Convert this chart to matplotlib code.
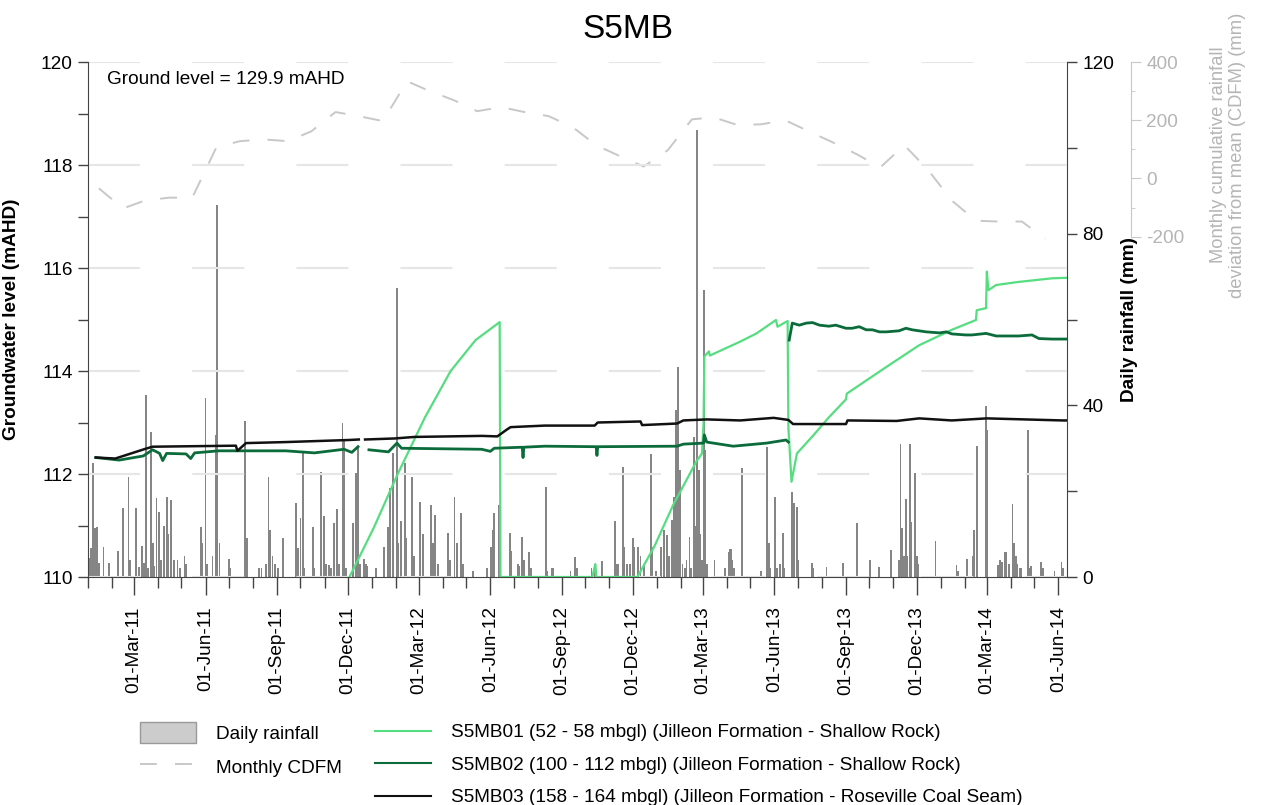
import pandas as pd
import matplotlib
matplotlib.use("Agg")
import matplotlib.pyplot as plt
import matplotlib.dates as mdates
from matplotlib.patches import Patch
from matplotlib.lines import Line2D
from matplotlib.ticker import MultipleLocator

plt.rcParams['font.family'] = ['Liberation Sans', 'DejaVu Sans']
plt.rcParams['axes.unicode_minus'] = False

# ---------------- data ----------------
rain_dates = [
    "2011-01-02", "2011-01-03", "2011-01-05", "2011-01-07", "2011-01-08", "2011-01-10", "2011-01-13", "2011-01-15",
    "2011-01-21", "2011-01-28", "2011-02-08", "2011-02-15", "2011-02-22", "2011-02-24", "2011-03-04", "2011-03-08",
    "2011-03-11", "2011-03-14", "2011-03-17", "2011-03-19", "2011-03-23", "2011-03-25", "2011-03-27", "2011-03-30",
    "2011-04-02", "2011-04-05", "2011-04-09", "2011-04-12", "2011-04-14", "2011-04-18", "2011-04-21", "2011-04-26",
    "2011-04-29", "2011-05-05", "2011-05-07", "2011-05-26", "2011-05-28", "2011-06-01", "2011-06-03", "2011-06-10",
    "2011-06-15", "2011-06-16", "2011-06-19", "2011-07-01", "2011-07-02", "2011-07-22", "2011-07-24", "2011-08-09",
    "2011-08-12", "2011-08-18", "2011-08-21", "2011-08-23", "2011-08-26", "2011-08-29", "2011-09-02", "2011-09-09",
    "2011-09-25", "2011-09-28", "2011-10-01", "2011-10-04", "2011-10-06", "2011-10-17", "2011-10-19", "2011-10-27",
    "2011-10-31", "2011-11-03", "2011-11-07", "2011-11-09", "2011-11-13", "2011-11-17", "2011-11-20", "2011-11-24",
    "2011-11-26", "2011-11-29", "2011-12-07", "2011-12-11", "2011-12-14", "2011-12-17", "2011-12-22", "2011-12-24",
    "2011-12-26",
    "2012-01-06", "2012-01-16", "2012-01-22", "2012-01-24", "2012-01-28", "2012-02-02", "2012-02-04", "2012-02-07",
    "2012-02-12", "2012-02-14", "2012-02-21", "2012-02-24", "2012-03-03", "2012-03-06", "2012-03-17", "2012-03-19",
    "2012-03-22", "2012-03-26", "2012-04-08", "2012-04-10", "2012-04-16", "2012-04-19", "2012-04-24", "2012-04-27",
    "2012-05-10", "2012-05-28", "2012-06-02", "2012-06-04", "2012-06-06", "2012-06-12", "2012-06-14", "2012-06-26",
    "2012-06-28", "2012-07-06", "2012-07-08", "2012-07-12", "2012-07-14", "2012-07-21", "2012-07-23", "2012-08-11",
    "2012-08-13", "2012-08-19", "2012-08-21", "2012-09-12", "2012-09-18", "2012-09-20", "2012-10-09", "2012-10-13",
    "2012-10-22", "2012-11-08", "2012-11-10", "2012-11-12", "2012-11-18", "2012-11-20", "2012-11-24", "2012-11-28",
    "2012-12-01", "2012-12-03", "2012-12-08", "2012-12-11", "2012-12-16", "2012-12-24", "2012-12-26", "2012-12-31",
    "2013-01-06", "2013-01-10", "2013-01-14", "2013-01-17", "2013-01-20", "2013-01-23", "2013-01-24", "2013-01-26",
    "2013-01-28", "2013-01-31", "2013-02-03", "2013-02-06", "2013-02-08", "2013-02-12", "2013-02-14", "2013-02-18",
    "2013-02-20", "2013-02-22", "2013-02-24", "2013-02-26", "2013-02-28", "2013-03-03", "2013-03-04", "2013-03-06",
    "2013-03-16", "2013-03-30", "2013-04-03", "2013-04-05", "2013-04-06", "2013-04-08", "2013-04-10", "2013-04-20",
    "2013-05-15", "2013-05-23", "2013-05-25", "2013-05-27", "2013-06-02", "2013-06-04", "2013-06-08", "2013-06-12",
    "2013-06-14", "2013-06-24", "2013-06-26", "2013-06-30", "2013-07-02", "2013-07-19", "2013-07-21", "2013-08-07",
    "2013-08-28", "2013-09-15", "2013-10-02", "2013-10-13", "2013-10-29", "2013-11-08", "2013-11-10", "2013-11-12",
    "2013-11-14", "2013-11-17", "2013-11-19", "2013-11-22", "2013-11-23", "2013-11-29", "2013-12-01", "2013-12-03",
    "2013-12-25",
    "2014-01-21", "2014-01-23", "2014-02-03", "2014-02-11", "2014-02-13", "2014-02-16", "2014-02-28", "2014-03-01",
    "2014-03-15", "2014-03-18", "2014-03-20", "2014-03-24", "2014-03-26", "2014-03-29", "2014-04-03", "2014-04-05",
    "2014-04-07", "2014-04-09", "2014-04-12", "2014-04-14", "2014-04-23", "2014-04-25", "2014-04-27", "2014-05-10",
    "2014-05-12", "2014-05-27", "2014-06-05", "2014-06-07",
]
rain_mm = [
    4.4, 2.0, 6.8, 26.6, 15.0, 11.4, 11.7, 3.2,
    7.0, 3.2, 6.0, 16.0, 23.3, 4.0, 16.0, 2.3,
    7.2, 3.2, 42.4, 2.0, 33.8, 8.0, 2.5, 18.4,
    15.2, 4.0, 12.0, 18.6, 10.0, 18.0, 4.0, 4.0,
    2.0, 5.0, 3.0, 11.7, 8.0, 41.7, 3.0, 5.0,
    33.0, 86.7, 8.0, 4.2, 2.0, 36.4, 9.0, 2.0,
    2.0, 3.0, 23.3, 11.0, 5.0, 3.0, 2.0, 9.0,
    17.2, 6.7, 13.8, 29.0, 2.0, 11.6, 2.0, 24.4,
    14.2, 3.0, 2.8, 2.0, 12.5, 15.8, 3.0, 36.0,
    32.0, 2.0, 12.6, 24.2, 30.4, 3.0, 4.2, 3.0,
    2.5,
    2.0, 7.0, 11.7, 20.7, 29.0, 67.4, 8.0, 13.0,
    26.5, 9.0, 23.3, 5.0, 17.4, 10.0, 16.8, 8.0,
    14.4, 3.0, 10.3, 4.0, 18.6, 8.0, 15.0, 3.0,
    1.5, 2.0, 7.0, 11.0, 14.9, 16.8, 2.0, 10.3,
    6.0, 3.0, 2.5, 9.3, 4.0, 5.8, 2.0, 21.0,
    1.5, 2.0, 2.0, 1.5, 4.7, 2.0, 2.0, 3.0,
    3.7, 13.0, 3.0, 3.0, 25.6, 7.0, 3.0, 3.0,
    9.0, 7.0, 7.0, 5.0, 3.0, 28.6, 7.0, 1.5,
    7.0, 11.0, 9.8, 5.0, 13.3, 18.7, 6.8, 39.0,
    49.0, 25.0, 3.0, 2.0, 4.0, 9.3, 2.0, 32.6,
    12.0, 104.2, 25.0, 10.0, 4.0, 66.9, 29.6, 3.0,
    4.0, 2.0, 5.8, 6.5, 6.5, 4.0, 2.0, 25.4,
    1.5, 30.4, 8.0, 2.0, 18.7, 2.0, 3.0, 10.3,
    2.0, 19.8, 17.2, 16.3, 4.0, 3.3, 2.0, 2.3,
    3.3, 12.6, 4.0, 2.3, 6.3, 4.0, 31.0, 11.4,
    5.0, 18.2, 5.0, 31.0, 12.8, 24.2, 5.0, 3.0,
    8.4,
    2.8, 1.5, 4.2, 5.0, 11.0, 30.5, 39.9, 34.3,
    2.8, 4.0, 3.5, 5.8, 5.8, 3.0, 17.0, 8.0,
    5.0, 3.0, 2.0, 2.0, 34.3, 2.0, 2.5, 3.5,
    2.0, 1.5, 3.5, 2.0,
]

# Monthly cumulative rainfall deviation from mean (mid-month values)
cdfm_months = pd.date_range("2011-01-01", "2014-05-01", freq="MS") + pd.Timedelta(days=14)
cdfm_mm = [
    -34, -103, -76, -66, -66, 107, 128, 134, 128, 162, 228, 214,
    197, 334, 300, 269, 231, 245, 228, 214, 176, 114, 76, 41,
    97, 203, 210, 183, 186, 200, 162, 124, 83, 38, 114, 31,
    -76, -145, -148, -148, -207,
]

mb01_dates = [
    "2011-12-03", "2012-01-03", "2012-02-03", "2012-03-09", "2012-04-11", "2012-05-13", "2012-06-13",
    "2012-06-14", "2012-10-10", "2012-10-14", "2012-10-15", "2012-12-07", "2012-12-29", "2013-01-22",
    "2013-02-21", "2013-02-28", "2013-03-02", "2013-03-03", "2013-03-04", "2013-03-09", "2013-03-10",
    "2013-04-18", "2013-05-09", "2013-06-03", "2013-06-05", "2013-06-18", "2013-06-19", "2013-06-23",
    "2013-06-30", "2013-07-21", "2013-08-10", "2013-09-01", "2013-09-02", "2013-10-23", "2013-12-04",
    "2014-01-15", "2014-02-15", "2014-02-16", "2014-02-28", "2014-03-01", "2014-03-03", "2014-03-13",
    "2014-04-11", "2014-05-24", "2014-06-12",
]
mb01_level = [
    110.0, 110.95, 112.0, 113.1, 114.0, 114.6, 114.95,
    110.0, 110.0, 110.25, 110.0, 110.0, 110.6, 111.4,
    112.25, 112.4, 113.0, 114.28, 114.3, 114.38, 114.3,
    114.57, 114.73, 114.99, 114.86, 114.97, 112.9, 111.85,
    112.4, 112.75, 113.1, 113.45, 113.56, 114.08, 114.5,
    114.8, 114.99, 115.18, 115.22, 115.93, 115.57, 115.67,
    115.73, 115.8, 115.81,
]

mb02_dates = [
    "2011-01-11", "2011-02-10", "2011-03-13", "2011-03-25", "2011-04-03", "2011-04-07", "2011-04-12",
    "2011-05-07", "2011-05-13", "2011-05-18", "2011-06-18", "2011-09-12", "2011-10-19", "2011-11-26",
    "2011-12-06", "2011-12-14", "2011-12-18", "2011-12-28", "2012-01-22", "2012-02-02", "2012-02-08",
    "2012-05-21", "2012-06-01", "2012-06-06", "2012-07-12", "2012-07-13", "2012-07-14", "2012-08-10",
    "2012-10-15", "2012-10-16", "2012-10-17", "2013-01-27", "2013-02-04", "2013-03-02", "2013-03-03",
    "2013-03-06", "2013-04-09", "2013-05-22", "2013-06-16", "2013-06-19", "2013-06-19T12:00",
    "2013-06-20", "2013-06-24", "2013-07-03", "2013-07-12", "2013-07-20", "2013-07-29", "2013-08-10",
    "2013-08-19", "2013-09-01", "2013-09-09", "2013-09-18", "2013-09-27", "2013-10-05", "2013-10-14",
    "2013-10-23", "2013-11-08", "2013-11-17", "2013-11-25", "2013-12-04", "2013-12-13", "2013-12-30",
    "2014-01-08", "2014-01-15", "2014-02-02", "2014-02-10", "2014-02-28", "2014-03-13", "2014-03-26",
    "2014-04-11", "2014-04-28", "2014-05-07", "2014-05-24", "2014-06-12",
]
mb02_level = [
    112.32, 112.27, 112.35, 112.47, 112.4, 112.26, 112.4,
    112.39, 112.3, 112.41, 112.45, 112.45, 112.41, 112.48,
    112.42, 112.53, None, 112.47, 112.43, 112.6, 112.5,
    112.48, 112.44, 112.5, 112.52, 112.32, 112.52, 112.54,
    112.53, 112.36, 112.53, 112.54, 112.58, 112.6, 112.76,
    112.62, 112.54, 112.6, 112.66, 112.62, None,
    114.6, 114.93, 114.89, 114.93, 114.94, 114.89, 114.87,
    114.89, 114.83, 114.83, 114.86, 114.80, 114.80, 114.76,
    114.76, 114.78, 114.83, 114.80, 114.78, 114.76, 114.74,
    114.76, 114.72, 114.70, 114.70, 114.73, 114.68, 114.68,
    114.68, 114.70, 114.63, 114.62, 114.62,
]

mb03_dates = [
    "2011-01-11", "2011-02-05", "2011-03-16", "2011-03-25", "2011-07-10", "2011-07-12", "2011-07-23",
    "2011-09-12", "2011-12-02", "2011-12-15", "2011-12-18", "2011-12-23", "2012-01-30", "2012-02-25",
    "2012-05-21", "2012-06-10", "2012-06-21", "2012-06-27", "2012-08-10", "2012-10-13", "2012-10-17",
    "2012-12-11", "2012-12-13", "2013-01-27", "2013-02-04", "2013-03-06", "2013-04-18", "2013-05-31",
    "2013-06-19", "2013-06-25", "2013-09-01", "2013-09-03", "2013-11-05", "2013-12-04", "2014-01-15",
    "2014-03-01", "2014-06-06", "2014-06-12",
]
mb03_level = [
    112.32, 112.30, 112.49, 112.53, 112.55, 112.45, 112.6,
    112.62, 112.66, 112.67, None, 112.67, 112.69, 112.72,
    112.74, 112.73, 112.85, 112.91, 112.94, 112.94, 113.0,
    113.02, 112.95, 112.98, 113.04, 113.06, 113.04, 113.09,
    113.05, 112.97, 112.97, 113.04, 113.03, 113.08, 113.04,
    113.08, 113.04, 113.04,
]

series_labels = [
    "S5MB01 (52 - 58 mbgl) (Jilleon Formation - Shallow Rock)",
    "S5MB02 (100 - 112 mbgl) (Jilleon Formation - Shallow Rock)",
    "S5MB03 (158 - 164 mbgl) (Jilleon Formation - Roseville Coal Seam)",
]
series_colors = ["#55dd80", "#0b6b3b", "#111111"]

# ---------------- figure ----------------
W, H = 1261, 805
fig = plt.figure(figsize=(W / 100, H / 100), dpi=100)
x0, x1, y0, y1 = 88, 1067, 62, 577
ax = fig.add_axes([x0 / W, 1 - y1 / H, (x1 - x0) / W, (y1 - y0) / H])
ax_rain = ax.twinx()
ax_cdfm = ax.twinx()
ax_cdfm.set_zorder(1)
ax_rain.set_zorder(2)
ax.set_zorder(3)
for a in (ax, ax_rain, ax_cdfm):
    a.patch.set_visible(False)

spine_col = "#444444"
light = "#c8c8c8"
fs = 13.7

# daily rainfall bars
rd = pd.to_datetime(rain_dates)
ax_rain.bar(rd, rain_mm, width=2.4, color="#858585", linewidth=0, align="center")
ax_rain.set_ylim(0, 120)
ax_rain.yaxis.set_major_locator(MultipleLocator(40))
ax_rain.yaxis.set_minor_locator(MultipleLocator(20))
ax_rain.tick_params(axis="y", which="both", direction="out", length=7, width=1,
                    labelsize=fs, color=spine_col, pad=4)
ax_rain.set_ylabel("Daily rainfall (mm)", fontsize=fs, fontweight="bold", rotation=90)
ax_rain.yaxis.set_label_coords((1121 - x0) / (x1 - x0), 0.5)

# CDFM on an offset axis
ax_cdfm.plot(cdfm_months, cdfm_mm, color=light, lw=1.4, dashes=(8.7, 9.3))
ax_cdfm.set_ylim(-1369, 400)
ax_cdfm.spines["right"].set_position(("axes", (1131 - x0) / (x1 - x0)))
ax_cdfm.spines["right"].set_bounds(-200, 400)
ax_cdfm.spines["right"].set_color(light)
ax_cdfm.set_yticks([-200, 0, 200, 400])
ax_cdfm.set_yticks([-100, 100, 300], minor=True)
ax_cdfm.tick_params(axis="y", which="major", length=7, color=light, labelcolor="#b5b5b5",
                    labelsize=fs, pad=4)
ax_cdfm.tick_params(axis="y", which="minor", length=3, color=light)
ax_cdfm.text((1228 - x0) / (x1 - x0), (y1 - 155) / (y1 - y0),
             "Monthly cumulative rainfall\ndeviation from mean (CDFM) (mm)",
             transform=ax_cdfm.transAxes, rotation=90, ha="center", va="center",
             fontsize=13.2, color="#b5b5b5", linespacing=1.2)

# groundwater levels
for dts, lev, col, lw in [(mb01_dates, mb01_level, series_colors[0], 1.6),
                          (mb02_dates, mb02_level, series_colors[1], 2.0),
                          (mb03_dates, mb03_level, series_colors[2], 1.8)]:
    vals = [float("nan") if v is None else v for v in lev]
    ax.plot(pd.to_datetime(dts, format="ISO8601"), vals, color=col, lw=lw)

ax.set_ylim(110, 120)
ax.set_xlim(pd.Timestamp("2011-01-01"), pd.Timestamp("2014-06-12"))
ax.yaxis.set_major_locator(MultipleLocator(2))
ax.yaxis.set_minor_locator(MultipleLocator(1))
ax.tick_params(axis="y", which="both", direction="out", length=7, width=1,
               labelsize=fs, color=spine_col, pad=4)
ax.xaxis.set_major_locator(mdates.MonthLocator(bymonth=[3, 6, 9, 12]))
ax.xaxis.set_minor_locator(mdates.MonthLocator())
ax.xaxis.set_major_formatter(mdates.DateFormatter("%d-%b-%y"))
ax.tick_params(axis="x", which="major", direction="out", length=13, width=1, color=spine_col,
               labelsize=fs, labelrotation=90, pad=8)
ax.tick_params(axis="x", which="minor", direction="out", length=8, width=1, color=spine_col)
ax.set_ylabel("Groundwater level (mAHD)", fontsize=fs, fontweight="bold")
ax.yaxis.set_label_coords((20 - x0) / (x1 - x0), 0.5)
ax.grid(axis="y", which="major", color="#e6e6e6", lw=1.5, linestyle=(0, (25, 25)))

for a in (ax, ax_rain, ax_cdfm):
    a.spines["top"].set_visible(False)
for a in (ax_rain, ax_cdfm):
    a.spines["left"].set_visible(False)
    a.spines["bottom"].set_visible(False)
ax.spines["right"].set_visible(False)
ax.spines["left"].set_color(spine_col)
ax.spines["bottom"].set_color(spine_col)
ax_rain.spines["right"].set_color(spine_col)

ax.text((107 - x0) / (x1 - x0), (y1 - 79) / (y1 - y0), "Ground level = 129.9 mAHD",
        transform=ax.transAxes, fontsize=fs, ha="left", va="center")

fig.text(628 / W, 1 - 30 / H, "S5MB", fontsize=24, ha="center", va="center")

# legends
h_rain = Patch(facecolor="#cccccc", edgecolor="#999999", linewidth=1)
h_cdfm = Line2D([], [], color=light, lw=1.4, dashes=(8.7, 9.3))
leg1 = fig.legend([h_rain, h_cdfm], ["Daily rainfall", "Monthly CDFM"],
                  loc="upper left", bbox_to_anchor=(140 / W, 1 - 722 / H),
                  frameon=False, fontsize=fs, borderpad=0, borderaxespad=0,
                  handlelength=2.93, handleheight=1.3, handletextpad=1.07, labelspacing=0.7)
series_handles = [Line2D([], [], color=c, lw=1.5) for c in series_colors]
leg2 = fig.legend(series_handles, series_labels,
                  loc="upper left", bbox_to_anchor=(375 / W, 1 - 724 / H),
                  frameon=False, fontsize=fs, borderpad=0, borderaxespad=0,
                  handlelength=2.93, handletextpad=1.07, labelspacing=0.8)

fig.savefig("out.png", dpi=100)
